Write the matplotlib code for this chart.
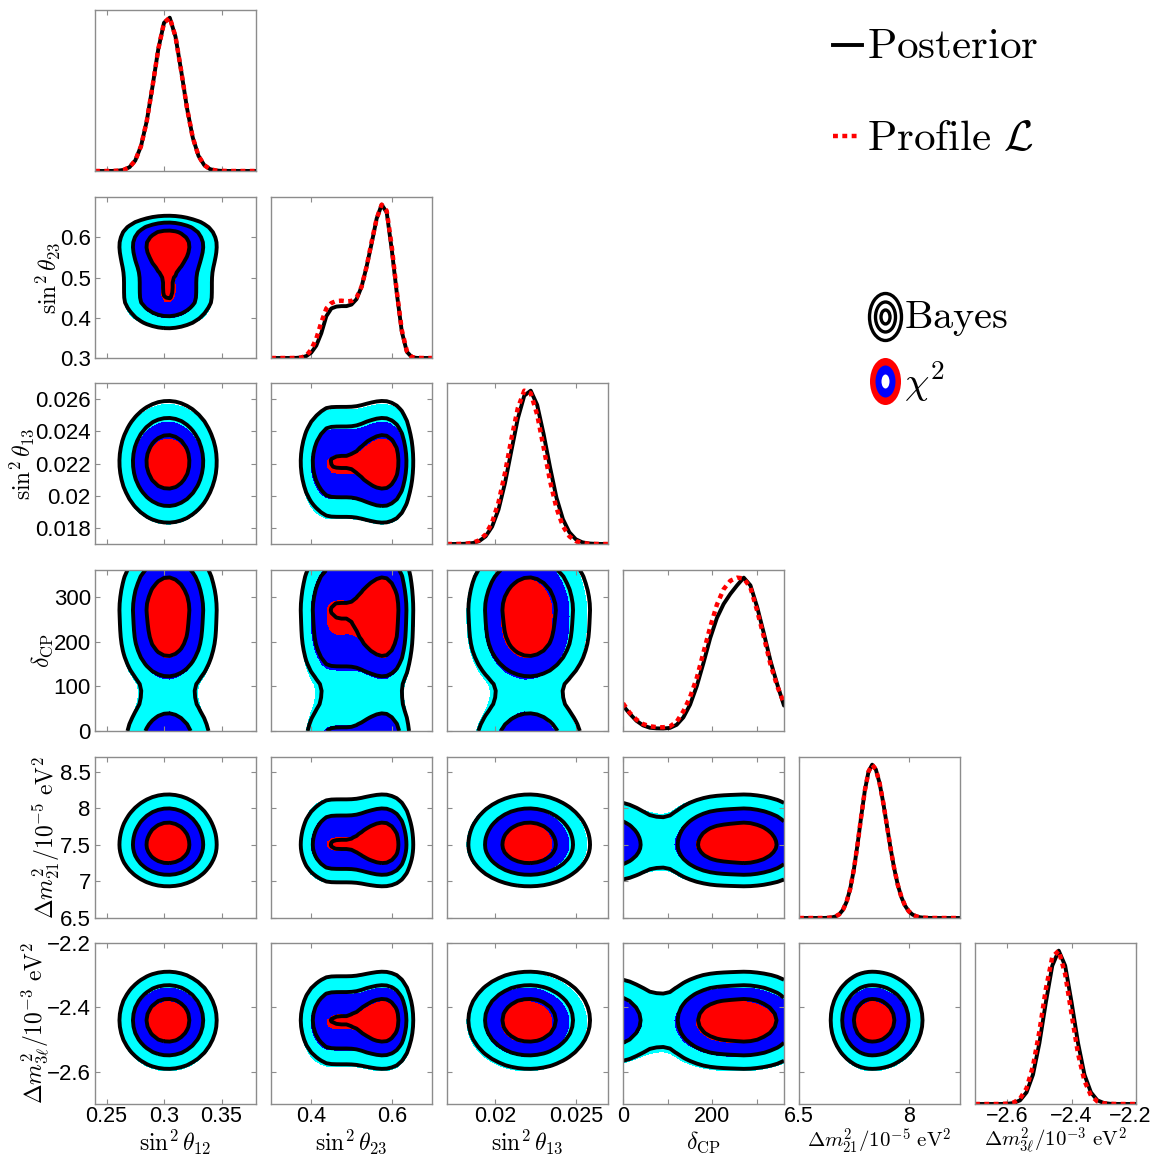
import numpy as np
import matplotlib
matplotlib.use('Agg')
import matplotlib.pyplot as plt
from matplotlib.patches import Ellipse
from matplotlib.transforms import ScaledTranslation

plt.rcParams['font.family'] = ['Liberation Sans', 'DejaVu Sans']
plt.rcParams['mathtext.fontset'] = 'cm'

# 1D marginals (peak-normalised heights)
s12_x = np.linspace(0.24, 0.38, 29)
s12_post = [0, 0, 0.0001, 0.0004, 0.0019, 0.0075, 0.0245, 0.068, 0.161, 0.323,
            0.547, 0.788, 0.960, 0.993, 0.870, 0.646, 0.407, 0.217, 0.098, 0.038,
            0.012, 0.0034, 0.0008, 0.0002, 0, 0, 0, 0, 0]
s12_prof = s12_post

s23_x = np.linspace(0.3, 0.7, 33)
s23_post = [0, 0, 0, 0, 0, 0.0008, 0.003, 0.012, 0.035, 0.08, 0.16, 0.27, 0.32,
            0.332, 0.335, 0.335, 0.345, 0.38, 0.46, 0.59, 0.74, 0.90, 0.99, 0.94,
            0.70, 0.42, 0.17, 0.04, 0.005, 0.0005, 0, 0, 0]
s23_prof = [0, 0, 0, 0, 0.0001, 0.0006, 0.003, 0.015, 0.055, 0.125, 0.23, 0.32,
            0.355, 0.368, 0.37, 0.366, 0.368, 0.39, 0.46, 0.59, 0.75, 0.90, 0.99,
            0.95, 0.72, 0.43, 0.18, 0.045, 0.006, 0.001, 0.0001, 0, 0]

s13_x = np.linspace(0.017, 0.027, 26)
s13_post = [0, 0.0001, 0.0005, 0.0018, 0.0063, 0.0187, 0.0497, 0.1125, 0.224,
            0.395, 0.6065, 0.8154, 0.9635, 0.996, 0.9037, 0.7146, 0.4985, 0.3008,
            0.1613, 0.076, 0.0307, 0.0111, 0.0035, 0.001, 0.0002, 0]
s13_prof = [0, 0.0001, 0.0006, 0.0024, 0.0082, 0.0241, 0.0617, 0.138, 0.2691,
            0.4578, 0.679, 0.8781, 0.9903, 0.9739, 0.8353, 0.6246, 0.4073, 0.2318,
            0.115, 0.0497, 0.0187, 0.0062, 0.0018, 0.0004, 0.0001, 0]

dcp_x = np.linspace(0, 360, 25)
dcp_post = [0.164, 0.112, 0.066, 0.036, 0.021, 0.017, 0.016, 0.02, 0.04, 0.088,
            0.17, 0.29, 0.44, 0.60, 0.73, 0.82, 0.885, 0.94, 0.99, 0.94, 0.80,
            0.63, 0.45, 0.30, 0.164]
dcp_prof = [0.18, 0.118, 0.074, 0.045, 0.031, 0.025, 0.024, 0.03, 0.06, 0.128,
            0.22, 0.345, 0.51, 0.675, 0.82, 0.92, 0.975, 0.995, 0.99, 0.93, 0.78,
            0.61, 0.43, 0.29, 0.18]

dm21_x = [6.5, 6.6, 6.7, 6.8, 6.85, 6.9, 6.95, 7.0, 7.05, 7.1, 7.15, 7.2, 7.25,
          7.3, 7.35, 7.4, 7.45, 7.5, 7.55, 7.6, 7.65, 7.7, 7.75, 7.8, 7.85, 7.9,
          7.95, 8.0, 8.05, 8.1, 8.15, 8.2, 8.25, 8.3, 8.4, 8.5, 8.6, 8.7]
dm21_post = [0, 0, 0, 0.0001, 0.0004, 0.0013, 0.0039, 0.0102, 0.0242, 0.0529,
             0.105, 0.191, 0.317, 0.480, 0.662, 0.832, 0.955, 1.0, 0.969, 0.882,
             0.755, 0.607, 0.458, 0.325, 0.216, 0.135, 0.0796, 0.0439, 0.0228,
             0.0111, 0.0051, 0.0022, 0.0009, 0.0003, 0.00004, 0, 0, 0]
dm21_prof = dm21_post

dm3l_x = np.linspace(-2.7, -2.2, 26)
dm3l_post = [0, 0, 0, 0.00003, 0.0002, 0.0013, 0.0064, 0.0241, 0.076, 0.191, 0.397,
             0.662, 0.902, 1.0, 0.902, 0.662, 0.397, 0.191, 0.076, 0.0241, 0.0064,
             0.0013, 0.0002, 0.00003, 0, 0]
dm3l_prof = [0, 0, 0, 0.00005, 0.0004, 0.0022, 0.0096, 0.0348, 0.101, 0.244, 0.47,
             0.743, 0.95, 0.991, 0.84, 0.579, 0.325, 0.149, 0.055, 0.0167, 0.004,
             0.0008, 0.0001, 0, 0, 0]

grids = [s12_x, s23_x, s13_x, dcp_x, dm21_x, dm3l_x]
posts = [s12_post, s23_post, s13_post, dcp_post, dm21_post, dm3l_post]
profs = [s12_prof, s23_prof, s13_prof, dcp_prof, dm21_prof, dm3l_prof]

labels = [r'$\sin^2\theta_{12}$', r'$\sin^2\theta_{23}$', r'$\sin^2\theta_{13}$',
          r'$\delta_{\rm CP}$', r'$\Delta m^2_{21}/10^{-5}\ {\rm eV}^2$',
          r'$\Delta m^2_{3\ell}/10^{-3}\ {\rm eV}^2$']
lims = [(0.24, 0.38), (0.3, 0.7), (0.017, 0.027), (0, 360), (6.5, 8.7), (-2.7, -2.2)]
xticks = [[0.25, 0.3, 0.35], [0.4, 0.6], [0.02, 0.025], [0, 100, 200, 300],
          [6.5, 8], [-2.6, -2.4, -2.2]]
xticklabels = [['0.25', '0.3', '0.35'], ['0.4', '0.6'], ['0.02', '0.025'],
               ['0', '', '200', ''], ['6.5', '8'], ['\u22122.6', '\u22122.4', '\u22122.2']]
yticks = [[], [0.3, 0.4, 0.5, 0.6], [0.018, 0.02, 0.022, 0.024, 0.026],
          [0, 100, 200, 300], [6.5, 7, 7.5, 8, 8.5], [-2.6, -2.4, -2.2]]
yticklabels = [[], ['0.3', '0.4', '0.5', '0.6'],
               ['0.018', '0.02', '0.022', '0.024', '0.026'],
               ['0', '100', '200', '300'], ['6.5', '7', '7.5', '8', '8.5'],
               ['\u22122.6', '\u22122.4', '\u22122.2']]

levels = [2.30, 6.18, 11.83]


def chi2(h):
    h = np.asarray(h, float)
    h = np.clip(h / h.max(), 1e-12, None)
    return -2 * np.log(h)


W, H = 1153.0, 1155.0
col_x = [95, 271, 447, 623, 799, 975]
row_y = [10, 197, 383, 570, 757, 943]
size = 161
grey = '#8c8c8c'

fig = plt.figure(figsize=(11.53, 11.55), dpi=100)

for r in range(6):
    for c in range(r + 1):
        ax = fig.add_axes([col_x[c] / W, 1 - (row_y[r] + size) / H, size / W, size / H])
        for sp in ax.spines.values():
            sp.set_color(grey)
            sp.set_linewidth(1.0)
        ax.tick_params(direction='in', length=3.5, width=0.8, color=grey,
                       top=True, right=True, labelsize=16, pad=3)
        ax.tick_params(axis='x', pad=1.5, labelsize=15.5)
        if r == c:
            x = np.asarray(grids[c], float)
            post = np.asarray(posts[c], float)
            prof = np.asarray(profs[c], float)
            ax.plot(x, post / post.max(), color='k', lw=2.8, solid_capstyle='round')
            ax.plot(x, prof / prof.max(), color='red', lw=3.2, ls=(0, (1.1, 1.0)))
            ax.set_ylim(0, 1.05)
            ax.set_yticks([])
        else:
            px = np.asarray(grids[c], float)
            py = np.asarray(grids[r], float)
            z_prof = chi2(profs[c])[None, :] + chi2(profs[r])[:, None]
            z_post = chi2(posts[c])[None, :] + chi2(posts[r])[:, None]
            ax.contourf(px, py, z_prof, levels=[-1] + levels,
                        colors=['red', 'blue', 'cyan'])
            ax.contour(px, py, z_post, levels=levels, colors='k', linewidths=2.8)
            ax.set_ylim(lims[r])
            ax.set_yticks(yticks[r])
            if c == 0:
                ax.set_yticklabels(yticklabels[r])
            else:
                ax.set_yticklabels([])
        ax.set_xlim(lims[c])
        ax.set_xticks(xticks[c])
        if r == 5:
            ax.set_xticklabels(xticklabels[c])
        else:
            ax.set_xticklabels([])
        if r == 5 and c == 5:
            # keep the last tick label inside the canvas
            last = ax.get_xticklabels()[-1]
            last.set_transform(last.get_transform() +
                               ScaledTranslation(-4 / 72, 0, fig.dpi_scale_trans))

# axis labels
xlab_y = [1142, 1142, 1142, 1142, 1141, 1141]
xlab_fs = [17, 17, 17, 17, 15, 15]
for c in range(6):
    fig.text((col_x[c] + size / 2) / W, 1 - xlab_y[c] / H, labels[c], fontsize=xlab_fs[c],
             ha='center', va='center')
ylab_x = [0, 48, 22, 42, 46, 35]
for r in range(1, 6):
    fig.text(ylab_x[r] / W, 1 - (row_y[r] + size / 2) / H, labels[r], fontsize=17,
             rotation=90, ha='center', va='center')

# legend
lg = fig.add_axes([0, 0, 1, 1])
lg.set_xlim(0, W)
lg.set_ylim(H, 0)
lg.axis('off')
lg.plot([833, 862], [45, 45], color='k', lw=2.8)
lg.text(867, 58, r'$\mathrm{Posterior}$', fontsize=31, va='baseline', ha='left')
lg.plot([833, 860], [136, 136], color='red', lw=3.2, ls=(0, (1.1, 1.0)))
lg.text(867, 150, r'$\mathrm{Profile}\ \mathcal{L}$', fontsize=31, va='baseline', ha='left')

for w, h in [(32, 47), (20, 30), (9, 14)]:
    lg.add_patch(Ellipse((885.5, 317), w, h, fill=False, ec='k', lw=2.4))
lg.text(904, 328, r'$\mathrm{Bayes}$', fontsize=29, va='baseline', ha='left')

for w, h, col in [(31, 47, 'red'), (20, 32, 'blue'), (8, 14, 'white')]:
    lg.add_patch(Ellipse((885.5, 381.5), w, h, fc=col, ec='none'))
lg.text(904, 395, r'$\chi^2$', fontsize=28, va='baseline', ha='left')

fig.savefig('out.png', dpi=100)
